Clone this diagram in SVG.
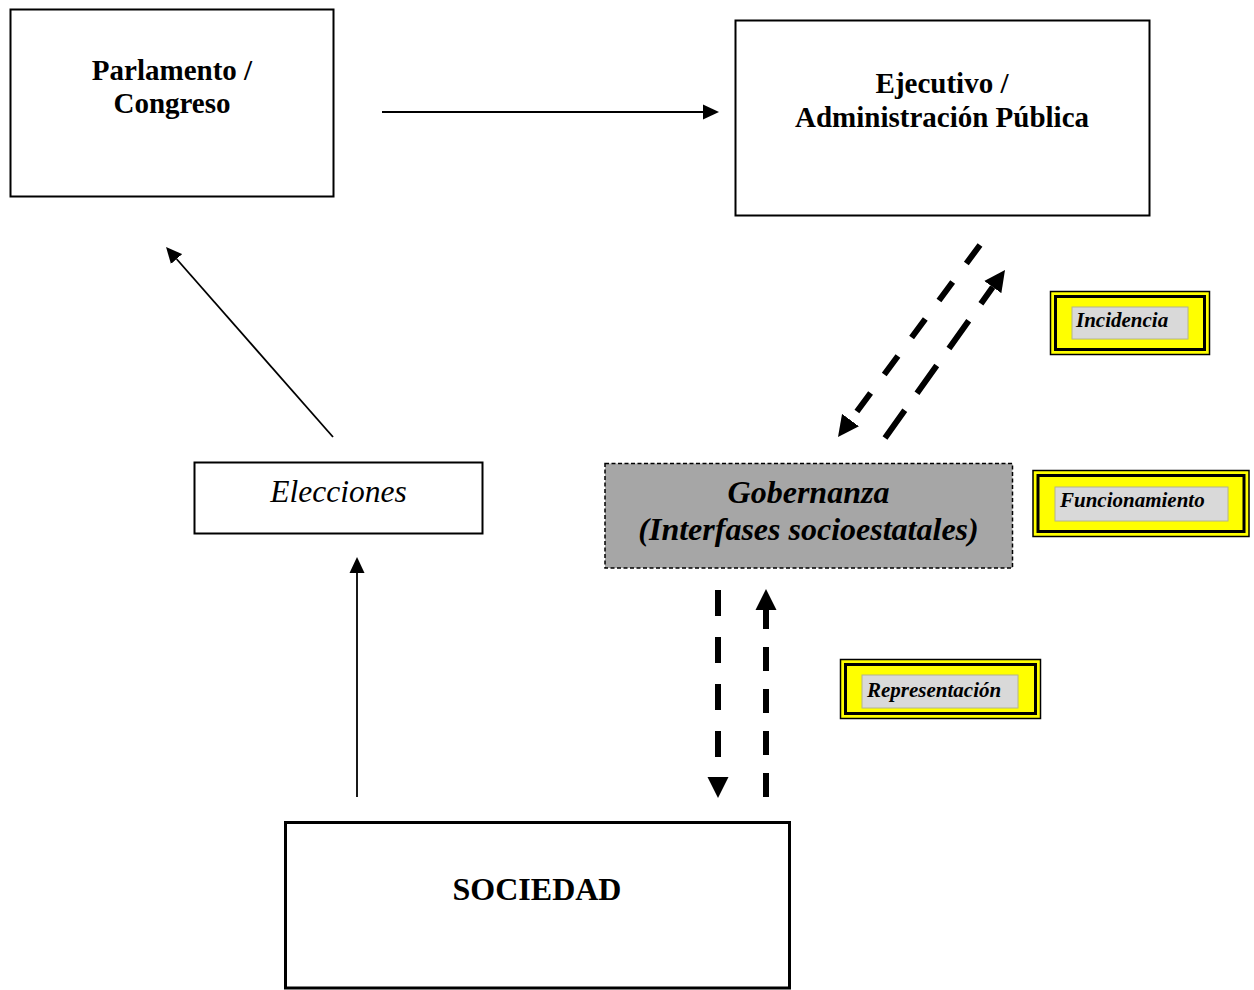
<svg xmlns="http://www.w3.org/2000/svg" width="1254" height="990" viewBox="0 0 1254 990">
<style>
.box{fill:#fff;stroke:#000;stroke-width:2}
.t{font-family:"Liberation Serif","Times New Roman",serif;fill:#000;text-anchor:middle}
.b{font-weight:bold}
.i{font-style:italic}
.thin{stroke:#000;stroke-width:1.8;fill:none}
.thick{stroke:#000;stroke-width:6;fill:none}
.lab-out{fill:#ffff00;stroke:#000;stroke-width:1.5}
.lab-in{fill:none;stroke:#000;stroke-width:3}
.lab-gray{fill:#d9d9d9;stroke:#b4b48c;stroke-width:1}
.lab-t{font-family:"Liberation Serif","Times New Roman",serif;font-weight:bold;font-style:italic;font-size:21px;fill:#000}
</style>
<defs>
<marker id="ah" markerUnits="userSpaceOnUse" viewBox="0 -8 16 16" markerWidth="16" markerHeight="16" refX="0" refY="0" orient="auto">
<path d="M0,-7.5 L16,0 L0,7.5 z" fill="#000"/>
</marker>
<marker id="ahb" markerUnits="userSpaceOnUse" viewBox="0 -11 21 22" markerWidth="21" markerHeight="22" refX="0" refY="0" orient="auto">
<path d="M0,-10.5 L21,0 L0,10.5 z" fill="#000"/>
</marker>
</defs>

<g id="parlamento">
<rect class="box" x="10.5" y="9.5" width="323" height="187"/>
<text class="t b" x="172" y="80" font-size="29">Parlamento /</text>
<text class="t b" x="172" y="113" font-size="29">Congreso</text>
</g>

<g id="ejecutivo">
<rect class="box" x="735.5" y="20.5" width="414" height="195"/>
<text class="t b" x="942" y="93" font-size="29">Ejecutivo /</text>
<text class="t b" x="942" y="127" font-size="29">Administración Pública</text>
</g>

<g id="elecciones">
<rect class="box" x="194.5" y="462.5" width="288" height="71"/>
<text class="t i" x="338.5" y="502" font-size="31.5">Elecciones</text>
</g>

<g id="gobernanza">
<rect x="605" y="463.5" width="407.5" height="104.5" fill="#a6a6a6" stroke="#000" stroke-width="1.5" stroke-dasharray="4 2.5"/>
<text class="t b i" x="808.5" y="503" font-size="32">Gobernanza</text>
<text class="t b i" x="808.5" y="540" font-size="32">(Interfases socioestatales)</text>
</g>

<g id="sociedad">
<rect class="box" x="285.5" y="822.5" width="504" height="165.5" style="stroke-width:3"/>
<text class="t b" x="537" y="900" font-size="32">SOCIEDAD</text>
</g>

<g id="incidencia">
<rect class="lab-out" x="1050.5" y="291.5" width="159" height="63"/>
<rect class="lab-in" x="1055.5" y="296.5" width="149" height="53"/>
<rect class="lab-gray" x="1072" y="307" width="116" height="32"/>
<text class="lab-t" x="1076" y="327">Incidencia</text>
</g>

<g id="funcionamiento">
<rect class="lab-out" x="1033" y="470.5" width="216" height="66"/>
<rect class="lab-in" x="1038" y="475.5" width="206" height="56"/>
<rect class="lab-gray" x="1055" y="487" width="173" height="34"/>
<text class="lab-t" x="1060" y="507">Funcionamiento</text>
</g>

<g id="representacion">
<rect class="lab-out" x="840.5" y="659.5" width="200" height="59"/>
<rect class="lab-in" x="845.5" y="664.5" width="190" height="49"/>
<rect class="lab-gray" x="862" y="675" width="156" height="33"/>
<text class="lab-t" x="867" y="697">Representación</text>
</g>

<g id="connectors">
<line class="thin" x1="382" y1="112" x2="703" y2="112" marker-end="url(#ah)"/>
<line class="thin" x1="333" y1="437" x2="176.6" y2="259" marker-end="url(#ah)"/>
<line class="thin" x1="357" y1="797" x2="357" y2="573" marker-end="url(#ah)"/>
<line class="thick" x1="980" y1="245" x2="850.5" y2="420.1" stroke-dasharray="23 23" marker-end="url(#ahb)"/>
<line class="thick" x1="885" y1="438" x2="992.8" y2="287.1" stroke-width="6.5" stroke-dasharray="34 21" marker-end="url(#ahb)"/>
<line class="thick" x1="718" y1="590" x2="718" y2="777" stroke-dasharray="26 21" marker-end="url(#ahb)"/>
<line class="thick" x1="766" y1="797" x2="766" y2="610" stroke-dasharray="24 18" marker-end="url(#ahb)"/>
</g>
</svg>
